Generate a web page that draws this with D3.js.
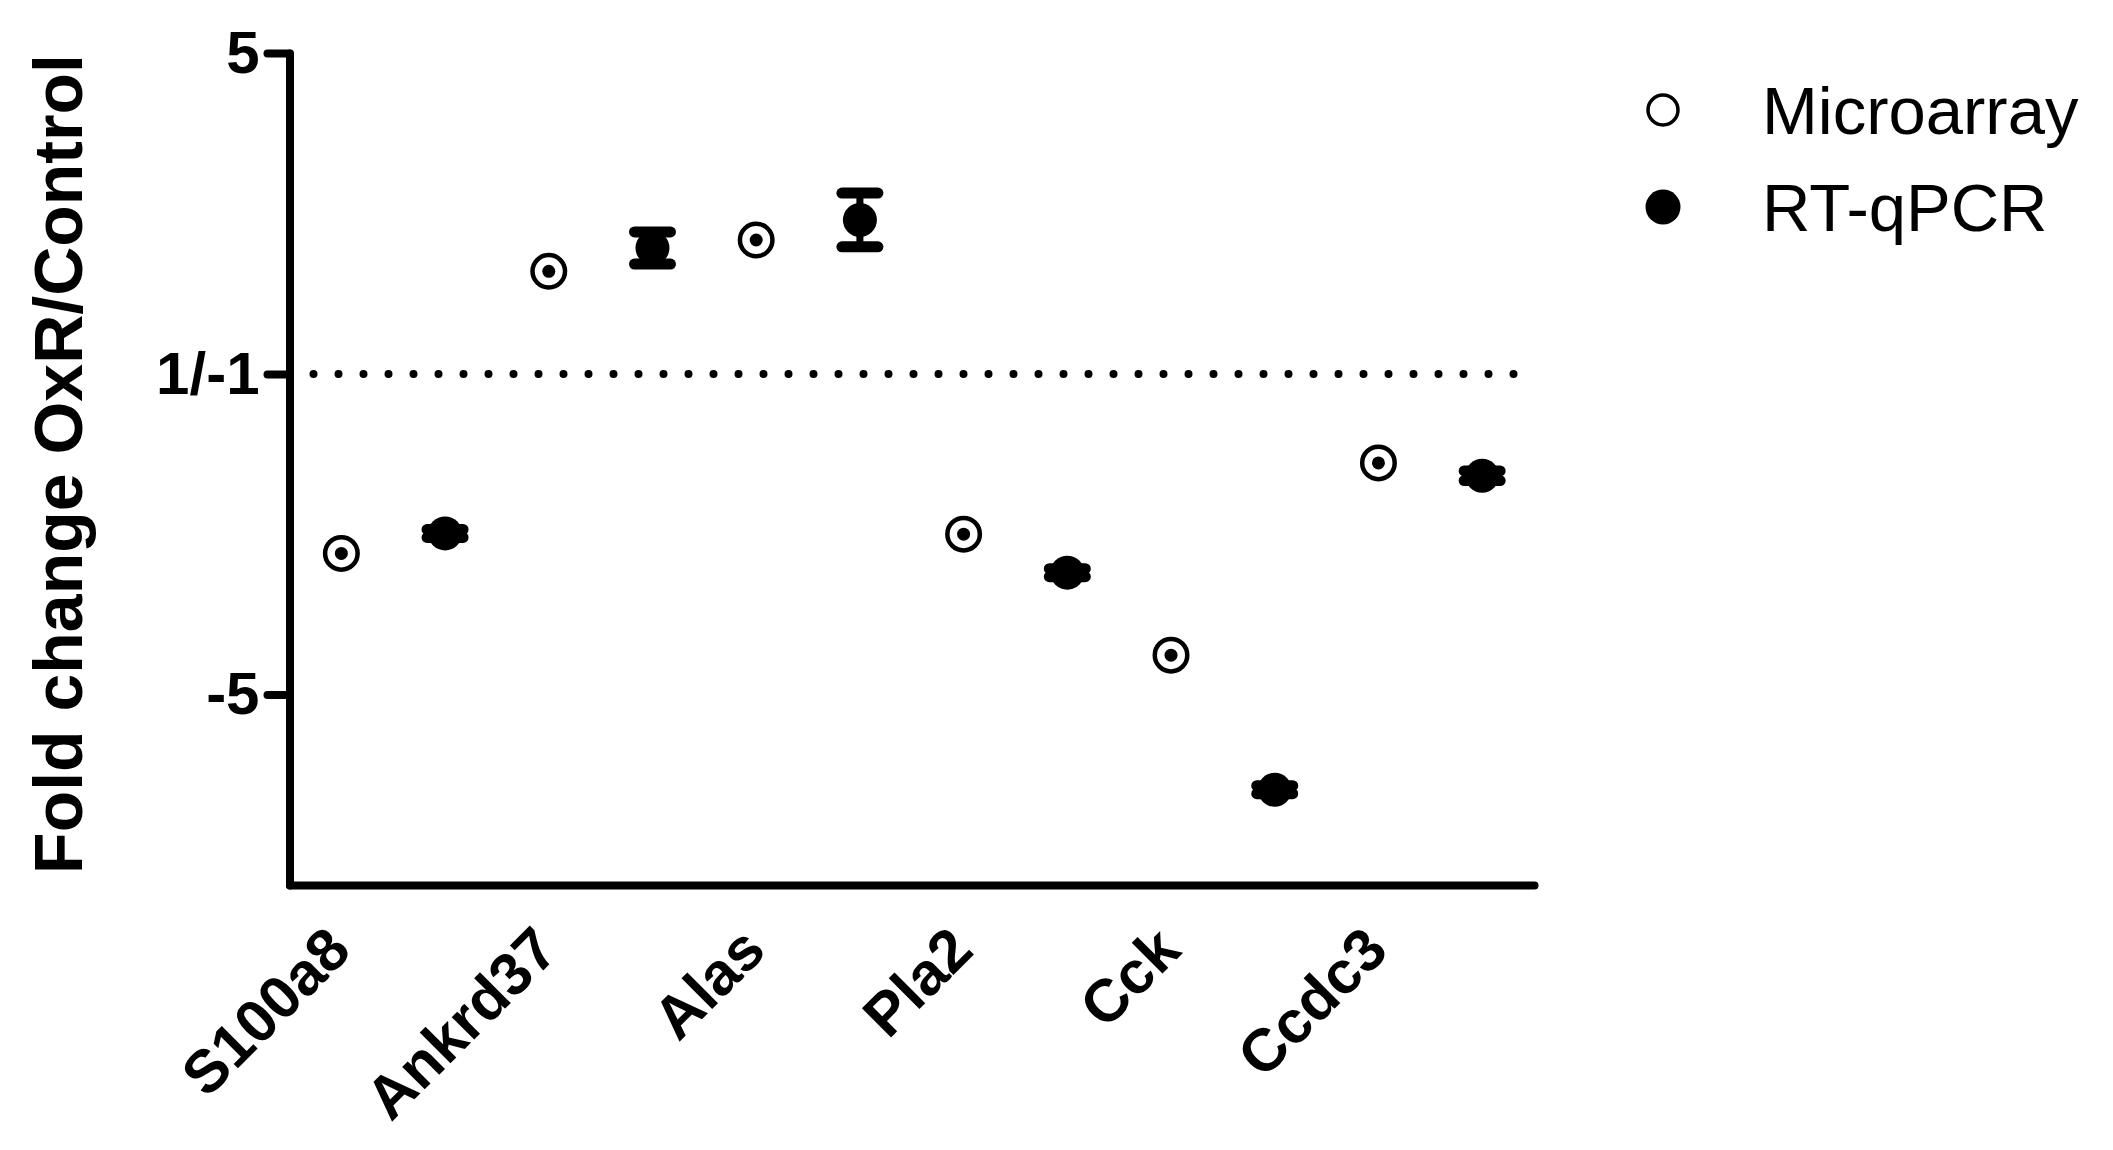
<!DOCTYPE html>
<html lang="en">
<head>
    <meta charset="UTF-8">
    <title>Fold change OxR/Control</title>
    <script src="https://d3js.org/d3.v7.min.js"></script>
    <style type="text/css">
        body {
            margin: 0;
            background: #fff;
        }
        svg {
            display: block;
            font-family: "Liberation Sans", Arial, Helvetica, sans-serif;
        }
        .axis path, .axis line {
            stroke: #000;
            stroke-width: 8px;
            stroke-linecap: round;
        }
        .axis text {
            font-size: 60px;
            font-weight: bold;
            fill: #000;
        }
        .ref-line {
            stroke: #000;
            stroke-width: 8px;
            stroke-linecap: round;
            stroke-dasharray: 0 25;
        }
        .cat-label {
            font-size: 60px;
            font-weight: bold;
        }
        .y-title {
            font-size: 68px;
            font-weight: bold;
        }
        .legend text {
            font-size: 67px;
        }
        .err {
            stroke: #000;
            stroke-linecap: round;
        }
    </style>
</head>
<body>
    <script type="text/javascript">
        // data (fold change, OxR vs control)
        const genes = ["S100a8", "Ankrd37", "Alas", "Pla2", "Cck", "Ccdc3"];
        const microarray = [-3.24, 2.28, 2.67, -3.0, -4.51, -2.11];
        const rtqpcr = [-2.99, 2.57, 2.92, -3.48, -6.19, -2.27];
        const rtqpcrErr = [0.05, 0.2, 0.335, 0.05, 0.05, 0.06];
        const yTicks = [5, 1, -5];
        const yTickLabels = ["5", "1/-1", "-5"];
        const seriesNames = ["Microarray", "RT-qPCR"];

        const width = 2113;
        const height = 1150;

        const svg = d3.select("body")
            .append("svg")
            .attr("width", width)
            .attr("height", height);

        // one slot per column: microarray then RT-qPCR for each gene
        const slots = genes.flatMap(g => [g + "|m", g + "|q"]);
        const x = d3.scalePoint()
            .domain(slots)
            .range([289.5, 1534])
            .padding(0.5);

        // fold change axis: 1 and -1 collapse onto the same line
        const y = d3.scaleLinear()
            .domain([-7.38, -1, 1, 5])
            .range([885, 374, 374, 53]);

        // reference line at 1/-1
        svg.append("line")
            .attr("class", "ref-line")
            .attr("x1", x.range()[0] + 24)
            .attr("x2", x.range()[1] + 2)
            .attr("y1", y(1))
            .attr("y2", y(1));

        // x axis (no ticks)
        svg.append("g")
            .attr("class", "axis")
            .attr("transform", `translate(0,${y.range()[0]})`)
            .call(d3.axisBottom(x).tickSize(0).tickSizeOuter(0))
            .call(g => g.selectAll(".tick").remove());

        // y axis
        svg.append("g")
            .attr("class", "axis")
            .attr("transform", `translate(${x.range()[0]},0)`)
            .call(d3.axisLeft(y)
                .tickValues(yTicks)
                .tickFormat((d, i) => yTickLabels[i])
                .tickSize(22)
                .tickSizeOuter(0)
                .tickPadding(8));

        svg.append("text")
            .attr("class", "y-title")
            .attr("transform", "translate(82,464) rotate(-90)")
            .attr("text-anchor", "middle")
            .text("Fold change OxR/Control");

        // category labels
        svg.selectAll(".cat-label")
            .data(genes)
            .join("text")
            .attr("class", "cat-label")
            .attr("text-anchor", "end")
            .attr("transform", d => `translate(${x(d + "|m") + 12},953) rotate(-45)`)
            .text(d => d);

        // microarray: open circles (zero length error bar shows as a dot)
        const micro = svg.append("g");
        micro.selectAll("circle.outer")
            .data(microarray)
            .join("circle")
            .attr("class", "outer")
            .attr("cx", (d, i) => x(genes[i] + "|m"))
            .attr("cy", d => y(d))
            .attr("r", 16.25)
            .attr("fill", "#fff")
            .attr("stroke", "#000")
            .attr("stroke-width", 4.5);
        micro.selectAll("circle.inner")
            .data(microarray)
            .join("circle")
            .attr("class", "inner")
            .attr("cx", (d, i) => x(genes[i] + "|m"))
            .attr("cy", d => y(d))
            .attr("r", 6.5)
            .attr("fill", "#000");

        // RT-qPCR: filled circles with error bars
        const rt = svg.append("g");
        rtqpcr.forEach((v, i) => {
            const cx = x(genes[i] + "|q");
            const e = rtqpcrErr[i];
            rt.append("line")
                .attr("class", "err")
                .attr("x1", cx).attr("x2", cx)
                .attr("y1", y(v + e)).attr("y2", y(v - e))
                .attr("stroke-width", 7);
            [v + e, v - e].forEach(b => {
                rt.append("line")
                    .attr("class", "err")
                    .attr("x1", cx - 18).attr("x2", cx + 18)
                    .attr("y1", y(b)).attr("y2", y(b))
                    .attr("stroke-width", 11);
            });
            rt.append("circle")
                .attr("cx", cx)
                .attr("cy", y(v))
                .attr("r", 17)
                .attr("fill", "#000");
        });

        // legend
        const legend = svg.append("g")
            .attr("class", "legend")
            .attr("transform", "translate(1663,110)");
        const item = legend.selectAll("g")
            .data(seriesNames)
            .join("g")
            .attr("transform", (d, i) => `translate(0,${i * 97})`);
        item.append("circle")
            .attr("r", (d, i) => i === 0 ? 15 : 17.5)
            .attr("fill", (d, i) => i === 0 ? "#fff" : "#000")
            .attr("stroke", "#000")
            .attr("stroke-width", (d, i) => i === 0 ? 3.5 : 0);
        item.append("text")
            .attr("x", 99)
            .attr("dy", "0.36em")
            .text(d => d);
    </script>
</body>
</html>
